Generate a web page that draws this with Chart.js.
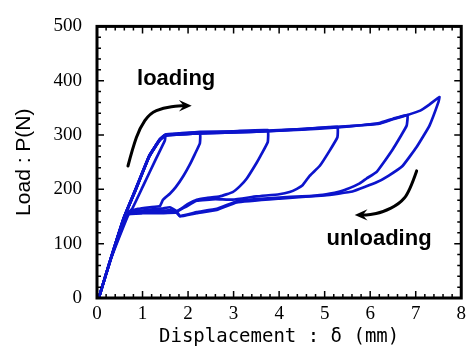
<!DOCTYPE html>
<html>
<head>
<meta charset="utf-8">
<script src="https://cdn.jsdelivr.net/npm/chart.js@4.4.0/dist/chart.umd.min.js"></script>
<style>
  html, body { margin: 0; padding: 0; background: #fff; }
</style>
</head>
<body>
<canvas id="chart" width="471" height="354"></canvas>
<script>
"use strict";

// load–displacement cycles (mm, N)
const cycle1Disp = [0.04, 0.3, 0.6, 0.85, 1.15, 1.38, 1.5, 1.49, 1.3, 1.0, 0.77, 0.62, 0.3, 0.04];
const cycle1Load = [0, 72, 150, 200, 262, 292, 300, 290, 257, 204, 164, 152, 72, 0];

const cycle2Disp = [0.04, 0.3, 0.6, 0.85, 1.15, 1.38, 1.5, 1.8, 2.26, 2.26, 2.15, 2.04, 1.9, 1.73, 1.6, 1.45, 1.38, 1.16, 0.9, 0.72, 0.3, 0.04];
const cycle2Load = [0, 71, 149, 199, 261, 291, 300, 302, 304, 285, 265, 246, 225, 204, 192, 181, 169, 167, 164, 159, 71, 0];

const cycle3Disp = [0.04, 0.3, 0.6, 0.85, 1.15, 1.38, 1.5, 1.8, 2.26, 3.0, 3.75, 3.75, 3.6, 3.5, 3.29, 3.14, 2.98, 2.7, 2.4, 2.19, 2.0, 1.82, 1.75, 1.6, 1.45, 1.34, 1.1, 0.7, 0.3, 0.04];
const cycle3Load = [0, 72, 150, 201, 262, 292, 301, 303, 306, 307, 309, 287, 263, 248, 220, 206, 195, 187, 184, 181, 173, 163, 160, 167, 165, 164, 162, 157, 72, 0];

const cycle4Disp = [0.04, 0.3, 0.6, 0.85, 1.15, 1.38, 1.5, 2.26, 3.0, 3.75, 4.5, 5.28, 5.28, 5.1, 4.89, 4.67, 4.52, 4.39, 4.23, 4.0, 3.5, 2.98, 2.6, 2.19, 1.95, 1.75, 1.6, 1.38, 1.0, 0.65, 0.3, 0.04];
const cycle4Load = [0, 71, 149, 200, 261, 291, 299, 303, 305, 307, 311, 315, 296, 270, 243, 225, 208, 201, 195, 191, 187, 181, 182, 179, 168, 159, 162, 160, 159, 155, 71, 0];

const cycle5Disp = [0.04, 0.3, 0.6, 0.85, 1.15, 1.38, 1.5, 2.26, 3.0, 3.75, 4.5, 5.28, 5.8, 6.2, 6.5, 6.82, 6.8, 6.65, 6.49, 6.3, 6.14, 5.92, 5.77, 5.48, 5.33, 4.96, 4.5, 4.01, 3.5, 3.07, 2.63, 2.19, 1.82, 1.75, 1.38, 1.0, 0.65, 0.3, 0.04];
const cycle5Load = [0, 72, 150, 200, 262, 292, 300, 304, 306, 308, 311, 315, 318, 322, 330, 337, 317, 295, 273, 250, 232, 220, 211, 200, 196, 190, 187, 185, 182, 178, 164, 158, 151, 159, 158, 157, 155, 72, 0];

const cycle6Disp = [0.04, 0.3, 0.6, 0.85, 1.15, 1.38, 1.5, 2.26, 3.0, 3.75, 4.5, 5.28, 5.8, 6.2, 6.5, 6.82, 7.1, 7.3, 7.52, 7.5, 7.3, 7.02, 6.71, 6.4, 6.14, 5.61, 5.0, 4.01, 3.07, 2.63, 2.19, 1.82, 1.75, 1.38, 1.0, 0.65, 0.3, 0.04];
const cycle6Load = [0, 71, 149, 199, 261, 291, 299, 303, 305, 307, 310, 314, 318, 321, 329, 337, 345, 356, 370, 361, 317, 278, 243, 225, 213, 196, 189, 183, 176, 162, 156, 150, 157, 156, 156, 153, 71, 0];

const dispRange = [0, 8];
const loadRange = [0, 500];

const allCycles = [
  [cycle1Disp, cycle1Load],
  [cycle2Disp, cycle2Load],
  [cycle3Disp, cycle3Load],
  [cycle4Disp, cycle4Load],
  [cycle5Disp, cycle5Load],
  [cycle6Disp, cycle6Load],
];

// arrows and words, placed in data units
const notes = [
  { text: "loading", at: [0.88, 393],
    arrow: [[0.68, 243], [0.79, 278], [0.94, 313], [1.16, 340], [1.45, 350], [1.82, 354], [2.08, 354]] },
  { text: "unloading", at: [5.04, 97],
    arrow: [[7.02, 234], [6.86, 195], [6.64, 173], [6.27, 158], [5.99, 153], [5.66, 153]] },
];

const lineColor = "#0c14cc";

function toPoints(disp, load) {
  const pts = [];
  for (let i = 0; i < disp.length; i++) {
    pts.push({ x: disp[i], y: load[i] });
  }
  return pts;
}

const datasets = [];
for (let i = 0; i < allCycles.length; i++) {
  datasets.push({
    label: "cycle " + (i + 1),
    data: toPoints(allCycles[i][0], allCycles[i][1]),
    borderColor: lineColor,
    borderWidth: 2.7,
    pointRadius: 0,
    tension: 0.1,
    fill: false,
  });
}

function smoothPath(ctx, pts) {
  ctx.beginPath();
  ctx.moveTo(pts[0][0], pts[0][1]);
  for (let i = 1; i < pts.length - 1; i++) {
    const mx = (pts[i][0] + pts[i + 1][0]) / 2;
    const my = (pts[i][1] + pts[i + 1][1]) / 2;
    ctx.quadraticCurveTo(pts[i][0], pts[i][1], mx, my);
  }
  ctx.lineTo(pts[pts.length - 1][0], pts[pts.length - 1][1]);
  ctx.stroke();
}

const framePlugin = {
  id: "frame",
  afterDraw(chart) {
    const ctx = chart.ctx;
    const xs = chart.scales.x;
    const ys = chart.scales.y;
    const a = chart.chartArea;
    ctx.save();
    ctx.strokeStyle = "#000";

    // inward ticks on all four sides
    ctx.lineWidth = 1.5;
    ctx.beginPath();
    for (let i = 0; i <= 40; i++) {
      const px = xs.getPixelForValue(i * 0.2);
      const len = i % 5 === 0 ? 7 : 4;
      ctx.moveTo(px, a.bottom);
      ctx.lineTo(px, a.bottom - len);
      ctx.moveTo(px, a.top);
      ctx.lineTo(px, a.top + len);
    }
    for (let i = 0; i <= 25; i++) {
      const py = ys.getPixelForValue(i * 20);
      const len = i % 5 === 0 ? 7 : 4;
      ctx.moveTo(a.left, py);
      ctx.lineTo(a.left + len, py);
      ctx.moveTo(a.right, py);
      ctx.lineTo(a.right - len, py);
    }
    ctx.stroke();

    ctx.lineWidth = 3;
    ctx.strokeRect(a.left, a.top, a.right - a.left, a.bottom - a.top);

    // annotations
    ctx.fillStyle = "#000";
    ctx.font = "bold 22px 'Liberation Sans', Arial, sans-serif";
    ctx.textAlign = "left";
    ctx.textBaseline = "alphabetic";
    notes.forEach(function (n) {
      ctx.fillText(n.text, xs.getPixelForValue(n.at[0]), ys.getPixelForValue(n.at[1]));
      const pts = n.arrow.map(function (p) {
        return [xs.getPixelForValue(p[0]), ys.getPixelForValue(p[1])];
      });
      ctx.lineWidth = 3;
      ctx.lineCap = "round";
      const tip = pts[pts.length - 1];
      const prev = pts[pts.length - 2];
      const ang = Math.atan2(tip[1] - prev[1], tip[0] - prev[0]);
      // stop the shaft short of the tip
      const body = pts.slice(0, -1);
      body.push([tip[0] - 8 * Math.cos(ang), tip[1] - 8 * Math.sin(ang)]);
      smoothPath(ctx, body);
      ctx.beginPath();
      ctx.moveTo(tip[0], tip[1]);
      ctx.lineTo(tip[0] - 14 * Math.cos(ang - 0.42), tip[1] - 14 * Math.sin(ang - 0.42));
      ctx.lineTo(tip[0] - 8 * Math.cos(ang), tip[1] - 8 * Math.sin(ang));
      ctx.lineTo(tip[0] - 14 * Math.cos(ang + 0.42), tip[1] - 14 * Math.sin(ang + 0.42));
      ctx.closePath();
      ctx.fill();
    });
    ctx.restore();
  },
};

const config = {
  type: "line",
  data: { datasets: datasets },
  options: {
    responsive: false,
    animation: false,
    devicePixelRatio: 1,
    layout: { padding: { top: 14, right: 9, left: 0, bottom: 0 } },
    plugins: { legend: { display: false }, tooltip: { enabled: false } },
    scales: {
      x: {
        type: "linear",
        min: dispRange[0],
        max: dispRange[1],
        grid: { display: false, drawTicks: false },
        border: { display: false },
        ticks: {
          stepSize: 1,
          padding: 5,
          maxRotation: 0,
          color: "#000",
          font: { family: "'Liberation Serif', 'Times New Roman', serif", size: 19 },
        },
        title: {
          display: true,
          text: "Displacement : δ (mm)",
          color: "#000",
          padding: { top: 0, bottom: 6 },
          font: { family: "'DejaVu Sans Mono', monospace", size: 19 },
        },
        afterFit(scale) { scale.height = 56; },
      },
      y: {
        type: "linear",
        min: loadRange[0],
        max: loadRange[1],
        grid: { display: false, drawTicks: false },
        border: { display: false },
        ticks: {
          stepSize: 100,
          padding: 15,
          color: "#000",
          font: { family: "'Liberation Serif', 'Times New Roman', serif", size: 19 },
        },
        title: {
          display: true,
          text: "Load : P(N)",
          color: "#000",
          padding: { top: 12, bottom: 0 },
          font: { family: "'Liberation Sans', Arial, sans-serif", size: 21 },
        },
        afterFit(scale) { scale.width = 97; },
      },
    },
  },
  plugins: [framePlugin],
};

const loadChart = new Chart(document.getElementById("chart"), config);
</script>
</body>
</html>
